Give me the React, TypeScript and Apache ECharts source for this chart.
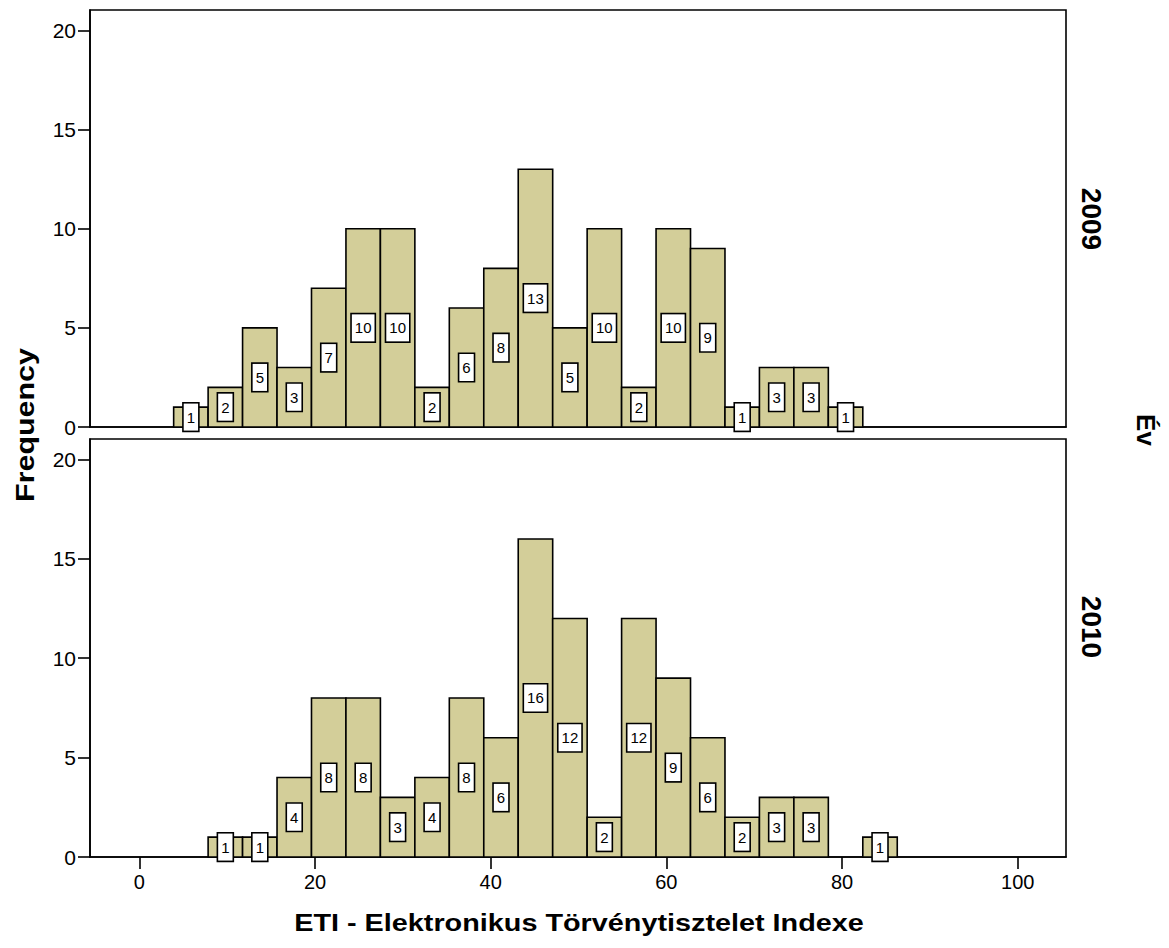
import React, { useEffect, useRef } from "react";
import * as echarts from "echarts";

// Histogram bins (ETI index), 21 equal-width bins
const binStart = 3.905;
const binWidth = 3.923;
const counts2009 = [1, 2, 5, 3, 7, 10, 10, 2, 6, 8, 13, 5, 10, 2, 10, 9, 1, 3, 3, 1, 0];
const counts2010 = [0, 1, 1, 4, 8, 8, 3, 4, 8, 6, 16, 12, 2, 12, 9, 6, 2, 3, 3, 0, 1];
const panelLabels = ["2009", "2010"];
const xTicks = [0, 20, 40, 60, 80, 100];
const yTicks = [0, 5, 10, 15, 20];
const xTitle = "ETI - Elektronikus Törvénytisztelet Indexe";
const yTitle = "Frequency";
const facetTitle = "Év";

const FONT = "'Liberation Sans', Arial, Helvetica, sans-serif";
const BAR_FILL = "#d3ce99";

function binData(counts: number[]) {
  const out: number[][] = [];
  counts.forEach((c, i) => {
    if (c > 0) {
      const s = binStart + i * binWidth;
      out.push([s, s + binWidth, c]);
    }
  });
  return out;
}

function renderBar(params: any, api: any) {
  const x0 = api.value(0);
  const x1 = api.value(1);
  const v = api.value(2);
  const p0 = api.coord([x0, v]);
  const p1 = api.coord([x1, 0]);
  const cx = (p0[0] + p1[0]) / 2;
  const cy = (p0[1] + p1[1]) / 2;
  return {
    type: "group",
    children: [
      {
        type: "rect",
        shape: { x: p0[0], y: p0[1], width: p1[0] - p0[0], height: p1[1] - p0[1] },
        style: { fill: BAR_FILL, stroke: "#000", lineWidth: 1.6 },
      },
      {
        type: "text",
        x: cx,
        y: cy,
        z2: 20,
        style: {
          text: String(v),
          fill: "#000",
          fontSize: 15,
          fontFamily: FONT,
          lineHeight: 15,
          align: "center",
          verticalAlign: "middle",
          textAlign: "center",
          textVerticalAlign: "middle",
          backgroundColor: "#fff",
          borderColor: "#000",
          borderWidth: 1.6,
          padding: [6, 3],
        },
      },
    ],
  };
}

export default function App() {
  const ref = useRef<HTMLDivElement>(null);
  useEffect(() => {
    if (!ref.current) return;
    const chart = echarts.init(ref.current, null, { renderer: "svg" });
    const axisLineStyle = { color: "#000", width: 1.6 };
    const xMin = -5.62;
    const xMax = 105.5;
    const yMax = 21.03;
    const grids = [
      { left: 90, top: 10, width: 976, height: 417 },
      { left: 90, top: 439, width: 976, height: 418 },
    ].map((g) => ({ ...g, show: true, borderColor: "#000", borderWidth: 1.6, backgroundColor: "transparent", containLabel: false }));

    const option: any = {
      animation: false,
      backgroundColor: "#fff",
      textStyle: { fontFamily: FONT },
      grid: grids,
      xAxis: [0, 1].map((i) => ({
        type: "value",
        gridIndex: i,
        min: xMin,
        max: xMax,
        axisLine: { show: true, onZero: false, lineStyle: axisLineStyle },
        axisTick: i === 1
          ? { show: true, length: 12, lineStyle: axisLineStyle, customValues: xTicks }
          : { show: false },
        axisLabel: i === 1
          ? { show: true, customValues: xTicks, fontSize: 20, color: "#000", fontFamily: FONT, margin: 15 }
          : { show: false },
        splitLine: { show: false },
      })),
      yAxis: [0, 1].map((i) => ({
        type: "value",
        gridIndex: i,
        min: 0,
        max: yMax,
        axisLine: { show: true, onZero: false, lineStyle: axisLineStyle },
        axisTick: { show: true, length: 12, lineStyle: axisLineStyle, customValues: yTicks },
        axisLabel: { show: true, customValues: yTicks, fontSize: 21, color: "#000", fontFamily: FONT, margin: 14 },
        splitLine: { show: false },
      })),
      series: [counts2009, counts2010].map((c, i) => ({
        type: "custom",
        name: panelLabels[i],
        xAxisIndex: i,
        yAxisIndex: i,
        z: 5,
        clip: false,
        renderItem: renderBar,
        encode: { x: [0, 1], y: 2 },
        data: binData(c),
      })),
      graphic: [
        {
          type: "text",
          x: 579,
          y: 923,
          scaleX: 1.2,
          style: {
            text: xTitle,
            font: `bold 24px ${FONT}`,
            fill: "#000",
            align: "center",
            verticalAlign: "middle",
            textAlign: "center",
            textVerticalAlign: "middle",
          },
        },
        {
          type: "text",
          x: 25,
          y: 425,
          rotation: Math.PI / 2,
          scaleX: 1.17,
          style: {
            text: yTitle,
            font: `bold 26px ${FONT}`,
            fill: "#000",
            align: "center",
            verticalAlign: "middle",
            textAlign: "center",
            textVerticalAlign: "middle",
          },
        },
        ...panelLabels.map((t, i) => ({
          type: "text",
          x: 1091,
          y: i === 0 ? 219 : 627,
          rotation: -Math.PI / 2,
          style: {
            text: t,
            font: `bold 28px ${FONT}`,
            fill: "#000",
            align: "center",
            verticalAlign: "middle",
            textAlign: "center",
            textVerticalAlign: "middle",
          },
        })),
        {
          type: "text",
          x: 1146,
          y: 430,
          rotation: -Math.PI / 2,
          style: {
            text: facetTitle,
            font: `bold 26px ${FONT}`,
            fill: "#000",
            align: "center",
            verticalAlign: "middle",
            textAlign: "center",
            textVerticalAlign: "middle",
          },
        },
      ],
    };
    chart.setOption(option);
    return () => chart.dispose();
  }, []);
  return (
    <div
      ref={ref}
      style={{ position: "fixed", left: 0, top: 0, width: 1169, height: 948, background: "#fff" }}
    />
  );
}
